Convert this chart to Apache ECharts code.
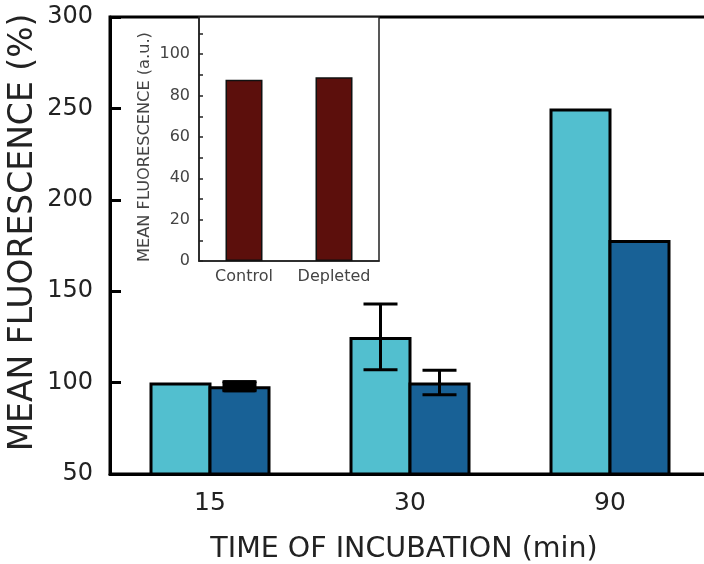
<!DOCTYPE html>
<html>
<head>
<meta charset="utf-8">
<script src="https://cdn.jsdelivr.net/npm/echarts@6/dist/echarts.min.js"></script>
<style>
html,body{margin:0;padding:0;background:#fff;}
#c{width:704px;height:564px;}
</style>
</head>
<body>
<div id="c"></div>
<script>
// ---- data ----
const categories = ['15', '30', '90'];
const controlValues = [100, 125, 250];
const controlErrors = [0, 18, 0];
const depletedValues = [98, 100, 178];
const depletedErrors = [2.5, 6.7, 0];

const insetCategories = ['Control', 'Depleted'];
const insetValues = [87.6, 88.9];

// ---- styles ----
const LIGHT = '#52bfcf';
const DARK = '#186196';
const INSET = '#5c0f0c';
const BAR_W = 62;
const BAR_OVERLAP = 3;
const FONT = 'DejaVu Sans';
const BAR_GAP = (-BAR_OVERLAP / BAR_W * 100) + '%';

function errData(vals, errs) {
  const out = [];
  vals.forEach((v, i) => { if (errs[i] > 0) out.push([i, v - errs[i], v + errs[i]]); });
  return out;
}

function errRender(offset) {
  return function (params, api) {
    const i = api.value(0);
    const lo = api.coord([i, api.value(1)]);
    const hi = api.coord([i, api.value(2)]);
    const cx = lo[0] + offset;
    const half = 17;
    const st = { stroke: '#000', lineWidth: 3 };
    const children = [
      { type: 'line', shape: { x1: cx, y1: hi[1], x2: cx, y2: lo[1] }, style: st },
      { type: 'line', shape: { x1: cx - half, y1: hi[1], x2: cx + half, y2: hi[1] }, style: st },
      { type: 'line', shape: { x1: cx - half, y1: lo[1], x2: cx + half, y2: lo[1] }, style: st }
    ];
    if (lo[1] - hi[1] < 12) {
      children.push({ type: 'rect', shape: { x: cx - half, y: hi[1] - 1.5, width: 2 * half, height: lo[1] - hi[1] + 3, r: 2 }, style: { fill: '#000' } });
    }
    return { type: 'group', children };
  };
}

const chart = echarts.init(document.getElementById('c'), null, { renderer: 'canvas' });
chart.setOption({
  animation: false,
  backgroundColor: '#fff',
  textStyle: { fontFamily: FONT },
  grid: [
    { left: 110, width: 600, top: 17, bottom: 90, show: true, borderColor: '#000', borderWidth: 3, backgroundColor: 'transparent', containLabel: false, outerBoundsMode: 'none' },
    { left: 199, width: 180, top: 17, bottom: 303, show: true, borderColor: '#222', borderWidth: 1.5, backgroundColor: '#fff', containLabel: false, outerBoundsMode: 'none' }
  ],
  xAxis: [
    {
      type: 'category', gridIndex: 0, data: categories,
      axisLine: { lineStyle: { color: '#000', width: 3 } },
      axisTick: { show: false },
      axisLabel: { fontSize: 25, color: '#222', margin: 17, fontFamily: FONT, interval: 0 },
      name: 'TIME OF INCUBATION (min)', nameLocation: 'middle', nameGap: 61, nameMoveOverlap: false,
      nameTextStyle: { fontSize: 28.5, color: '#222', fontFamily: FONT, padding: [0, 12, 0, 0] }
    },
    {
      type: 'category', gridIndex: 1, data: insetCategories,
      axisLine: { lineStyle: { color: '#222', width: 1.5 } },
      axisTick: { show: false },
      axisLabel: { fontSize: 16, color: '#444', margin: 8, fontFamily: FONT, interval: 0 }
    }
  ],
  yAxis: [
    {
      type: 'value', gridIndex: 0, min: 50, max: 300, interval: 50,
      axisLine: { show: true, lineStyle: { color: '#000', width: 3 } },
      axisTick: { show: true, inside: true, length: 11, lineStyle: { color: '#000', width: 3 } },
      axisLabel: { fontSize: 24, color: '#222', margin: 17, fontFamily: FONT },
      splitLine: { show: false },
      name: 'MEAN FLUORESCENCE (%)', nameLocation: 'middle', nameGap: 70, nameMoveOverlap: false,
      nameTextStyle: { fontSize: 33, color: '#222', fontFamily: FONT, padding: [0, 0, 0, 26] }
    },
    {
      type: 'value', gridIndex: 1, min: 0, max: 118, interval: 10,
      axisLine: { show: true, lineStyle: { color: '#222', width: 1.5 } },
      axisTick: { show: true, inside: true, length: 4, lineStyle: { color: '#222', width: 1.5 } },
      axisLabel: {
        fontSize: 16, color: '#444', margin: 9, fontFamily: FONT, showMaxLabel: false,
        formatter: v => (v % 20 === 0 && v <= 100) ? String(v) : ''
      },
      splitLine: { show: false },
      name: 'MEAN FLUORESCENCE (a.u.)', nameLocation: 'middle', nameGap: 46, nameMoveOverlap: false,
      nameTextStyle: { fontSize: 16.2, color: '#444', fontFamily: FONT, padding: [0, 16, 0, 0] }
    }
  ],
  series: [
    {
      type: 'bar', xAxisIndex: 0, yAxisIndex: 0, data: controlValues, barWidth: BAR_W, barGap: BAR_GAP,
      itemStyle: { color: LIGHT, borderColor: '#000', borderWidth: 3 }, z: 2
    },
    {
      type: 'bar', xAxisIndex: 0, yAxisIndex: 0, data: depletedValues, barWidth: BAR_W, barGap: BAR_GAP,
      itemStyle: { color: DARK, borderColor: '#000', borderWidth: 3 }, z: 2
    },
    {
      type: 'custom', xAxisIndex: 0, yAxisIndex: 0, data: errData(controlValues, controlErrors),
      renderItem: errRender(-(BAR_W - BAR_OVERLAP) / 2), z: 5, encode: { x: 0, y: [1, 2] }
    },
    {
      type: 'custom', xAxisIndex: 0, yAxisIndex: 0, data: errData(depletedValues, depletedErrors),
      renderItem: errRender((BAR_W - BAR_OVERLAP) / 2), z: 5, encode: { x: 0, y: [1, 2] }
    },
    {
      type: 'bar', xAxisIndex: 1, yAxisIndex: 1, data: insetValues, barWidth: 37,
      itemStyle: { color: INSET, borderColor: '#111', borderWidth: 1.5 }, z: 3
    }
  ]
});
</script>
</body>
</html>
